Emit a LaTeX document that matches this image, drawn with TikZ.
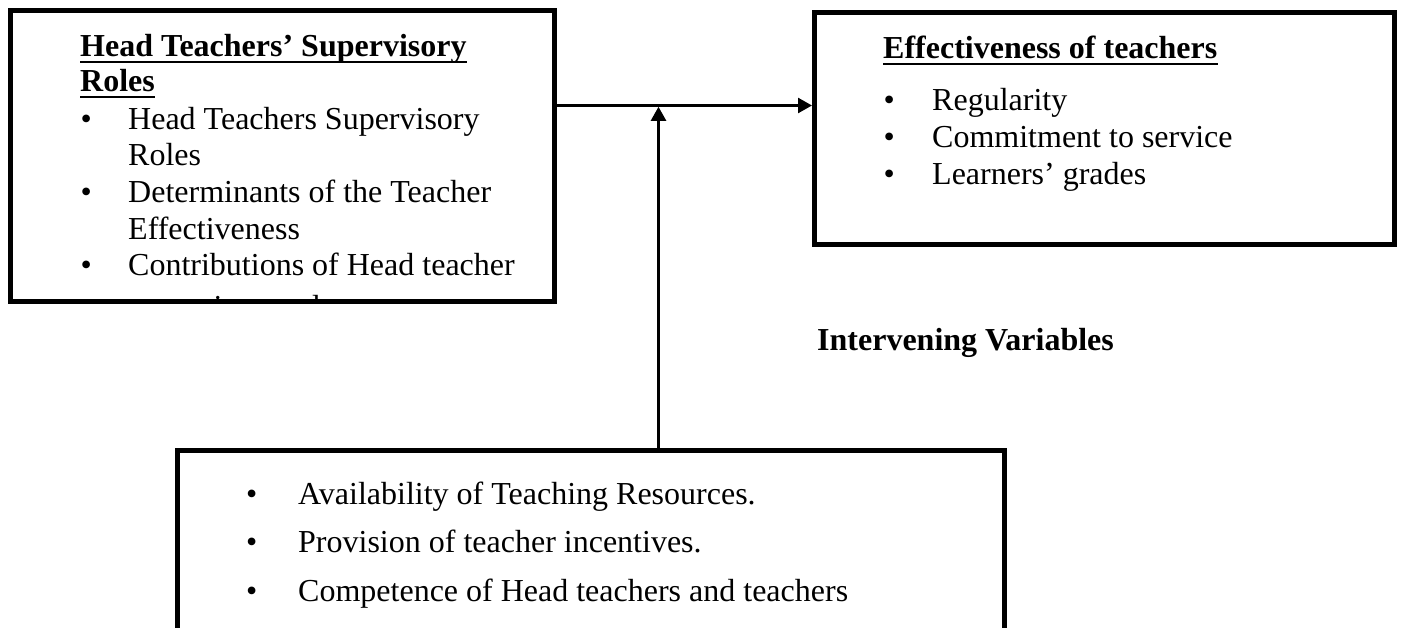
\documentclass[tikz,border=0pt]{standalone}
\usepackage{fontspec}
\setmainfont{Liberation Serif}
\usetikzlibrary{arrows.meta}
\begin{document}
\begin{tikzpicture}[x=1pt,y=-1pt,
  box/.style={draw,line width=5pt,rectangle,inner sep=0pt,fill=none},
  txt/.style={anchor=base west,inner sep=0pt,font=\fontsize{32}{36.8}\selectfont},
  bld/.style={anchor=base west,inner sep=0pt,font=\fontsize{32}{36.8}\selectfont\bfseries},
  uline/.style={line width=2.5pt},
  conn/.style={line width=2.5pt,-{Triangle[length=14pt,width=15pt]}}]
\useasboundingbox (0,0) rectangle (1405,628);
\clip (0,0) rectangle (1405,628);

% left box text (clipped to the inside of the box)
\begin{scope}
\clip (13,13) rectangle (552,299);
\node[bld] (lt1) at (80,57) {Head Teachers’ Supervisory};
\node[bld] (lt2) at (80,92) {Roles};
\node[txt] (lb1) at (80.4,129.5) {•};
\node[txt] (la1) at (128,129.5) {Head Teachers Supervisory};
\node[txt] (la2) at (128,166) {Roles};
\node[txt] (lb2) at (80.4,203) {•};
\node[txt] (lc1) at (128,203) {Determinants of the Teacher};
\node[txt] (lc2) at (128,239.5) {Effectiveness};
\node[txt] (lb3) at (80.4,276) {•};
\node[txt] (ld1) at (128,276) {Contributions of Head teacher};
\node[txt] (ld2) at (128,317) {supervisory roles};
\end{scope}
\draw[uline] ([yshift=-5pt]lt1.base west) -- ([yshift=-5pt]lt1.base east);
\draw[uline] ([yshift=-5pt]lt2.base west) -- ([yshift=-5pt]lt2.base east);

% boxes
\node[box,minimum width=544pt,minimum height=291pt] (lbox) at (282.5,156) {};
\node[box,minimum width=580pt,minimum height=232pt] (rbox) at (1104.5,128.5) {};
\node[box,minimum width=826.5pt,minimum height=199.5pt] (bbox) at (590.75,550.25) {};

% right box text
\node[bld] (rt) at (883,59) {Effectiveness of teachers};
\draw[uline] ([yshift=-5pt]rt.base west) -- ([yshift=-5pt]rt.base east);
\node[txt] (rb1) at (883.4,111) {•};
\node[txt] (ra) at (932,111) {Regularity};
\node[txt] (rb2) at (883.4,148) {•};
\node[txt] (rc) at (932,148) {Commitment to service};
\node[txt] (rb3) at (883.4,185) {•};
\node[txt] (rd) at (932,185) {Learners’ grades};

% label
\node[bld] (iv) at (817,350) {Intervening Variables};

% bottom box text
\node[txt] (bb1) at (245.8,504) {•};
\node[txt] (ba) at (298,504) {Availability of Teaching Resources.};
\node[txt] (bb2) at (245.8,552) {•};
\node[txt] (bc) at (298,552) {Provision of teacher incentives.};
\node[txt] (bb3) at (245.8,601) {•};
\node[txt] (bd) at (298,601) {Competence of Head teachers and teachers};

% connectors
\coordinate (j) at (658.5,105.5);
\coordinate (jv) at (658.5,106.8);
\draw[conn] (j -| lbox.east) -- (j -| rbox.west);
\draw[conn] (bbox.north -| jv) -- (jv);
\end{tikzpicture}
\end{document}
